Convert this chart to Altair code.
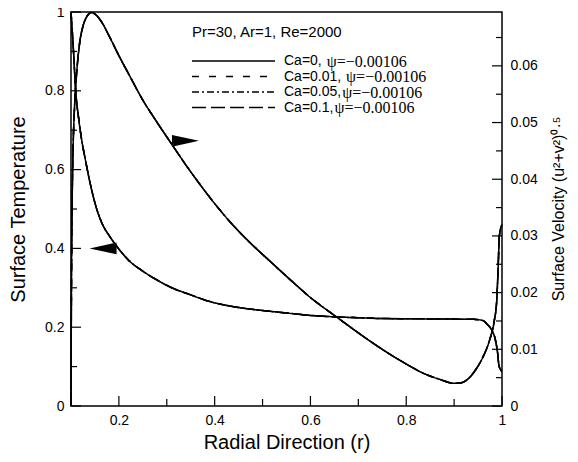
import altair as alt
import pandas as pd

# ---------------- data ----------------
r_temp = [0.100, 0.105, 0.110, 0.116, 0.1225, 0.130, 0.140, 0.1517, 0.165, 0.180,
          0.197, 0.221, 0.249, 0.275, 0.307, 0.350, 0.390, 0.440, 0.495, 0.550,
          0.599, 0.655, 0.700, 0.750, 0.800, 0.850, 0.900, 0.940, 0.960, 0.970,
          0.9775, 0.9865, 0.991, 0.9933, 0.997, 1.000]
temperature = [1.000, 0.905, 0.796, 0.730, 0.674, 0.625, 0.565, 0.508, 0.463, 0.432,
               0.403, 0.369, 0.343, 0.323, 0.302, 0.282, 0.265, 0.252, 0.243, 0.236,
               0.230, 0.226, 0.224, 0.222, 0.2215, 0.221, 0.2205, 0.220, 0.217, 0.206,
               0.195, 0.166, 0.133, 0.105, 0.092, 0.088]

r_vel = [0.100, 0.1005, 0.101, 0.102, 0.1035, 0.1045, 0.107, 0.109, 0.113, 0.118,
         0.125, 0.133, 0.143, 0.152, 0.165, 0.180, 0.200, 0.224, 0.249, 0.280,
         0.311, 0.340, 0.370, 0.400, 0.446, 0.474, 0.5225, 0.564, 0.599, 0.6546,
         0.700, 0.7517, 0.800, 0.835, 0.870, 0.900, 0.915, 0.932, 0.945, 0.960,
         0.974, 0.984, 0.989, 0.992, 0.9945, 1.000]
velocity = [0.0, 0.012, 0.022, 0.033, 0.042, 0.046, 0.052, 0.0553, 0.0600, 0.0640,
            0.0670, 0.0687, 0.0694, 0.0690, 0.0676, 0.0652, 0.0618, 0.0580, 0.0541, 0.0500,
            0.0461, 0.0425, 0.0390, 0.0357, 0.0312, 0.0288, 0.0250, 0.0218, 0.0192, 0.0157,
            0.0129, 0.0099, 0.0074, 0.0058, 0.0047, 0.0040, 0.0041, 0.0050, 0.0064, 0.0086,
            0.0116, 0.0151, 0.0186, 0.0245, 0.0300, 0.0320]

ca_text = ["Ca=0, ", "Ca=0.01, ", "Ca=0.05,", "Ca=0.1,"]
psi_text = ["ψ=−0.00106", "ψ=−0.00106", "ψ=−0.00106", "ψ=−0.00106"]
header_text = "Pr=30, Ar=1, Re=2000"

arrow_right_r, arrow_right_T = [0.339], [0.673]
arrow_left_r, arrow_left_T = [0.167], [0.400]

x_major = [0.2, 0.4, 0.6, 0.8, 1.0]
x_minor = [0.3, 0.5, 0.7, 0.9]
t_major = [0.0, 0.2, 0.4, 0.6, 0.8, 1.0]
t_minor = [0.1, 0.3, 0.5, 0.7, 0.9]
v_major = [0.0, 0.01, 0.02, 0.03, 0.04, 0.05, 0.06]
v_minor = [0.005, 0.015, 0.025, 0.035, 0.045, 0.055, 0.065]

# ---------------- styling ----------------
W, H = 431, 394
SANS = "Liberation Sans"
SERIF = "Liberation Serif"
dash_styles = [[1, 0], [7, 10], [7, 3, 2, 3], [14, 5]]

xscale = alt.Scale(domain=[0.1, 1.0], nice=False, zero=False)
tscale = alt.Scale(domain=[0.0, 1.0], nice=False, zero=False)
vscale = alt.Scale(domain=[0.0, 0.0695], nice=False, zero=False)

x_axis = alt.Axis(values=x_major, format="~g", ticks=False, domain=False, grid=False,
                  labelFlush=False, labelPadding=7, labelFontSize=14,
                  title="Radial Direction (r)", titleFontSize=20, titlePadding=5)
t_axis = alt.Axis(orient="left", values=t_major, format="~g", ticks=False, domain=False,
                  grid=False, labelFlush=False, labelPadding=7, labelFontSize=14,
                  title="Surface Temperature", titleFontSize=20, titlePadding=16)
v_axis = alt.Axis(orient="right", values=v_major, format="~g", ticks=False, domain=False,
                  grid=False, labelFlush=False, labelPadding=8, labelFontSize=14,
                  title=None)

X = alt.X("r:Q", scale=xscale, axis=x_axis)
one = pd.DataFrame({"k": [0]})

temp_df = pd.DataFrame([{"ca": c, "r": r, "T": t}
                        for c in ca_text for r, t in zip(r_temp, temperature)])
vel_df = pd.DataFrame([{"ca": c, "r": r, "v": v}
                       for c in ca_text for r, v in zip(r_vel, velocity)])
dash_enc = alt.StrokeDash("ca:N", scale=alt.Scale(domain=ca_text, range=dash_styles),
                          legend=None)

temp_lines = alt.Chart(temp_df).mark_line(color="black", strokeWidth=1.5,
                                          interpolate="monotone").encode(
    x=X, y=alt.Y("T:Q", scale=tscale, axis=t_axis), strokeDash=dash_enc)

vel_lines = alt.Chart(vel_df).mark_line(color="black", strokeWidth=1.5,
                                        interpolate="monotone").encode(
    x=X, y=alt.Y("v:Q", scale=vscale, axis=v_axis), strokeDash=dash_enc)


def yticks(vals, field, scale, axis, x0, x1):
    return alt.Chart(pd.DataFrame({field: vals})).mark_rule(color="black", strokeWidth=1.2).encode(
        y=alt.Y(f"{field}:Q", scale=scale, axis=axis), x=alt.value(x0), x2=alt.value(x1))


def xticks(vals, length):
    return alt.Chart(pd.DataFrame({"r": vals})).mark_rule(color="black", strokeWidth=1.2).encode(
        x=X, y=alt.value(H), y2=alt.value(H - length))


arrow_r_layer = alt.Chart(pd.DataFrame({"r": arrow_right_r, "T": arrow_right_T})).mark_point(
    shape="M -1 -0.43 L 1 0 L -1 0.43 Z", filled=True, size=729, color="black", opacity=1).encode(
    x=X, y=alt.Y("T:Q", scale=tscale, axis=t_axis))
arrow_l_layer = alt.Chart(pd.DataFrame({"r": arrow_left_r, "T": arrow_left_T})).mark_point(
    shape="M 1 -0.43 L -1 0 L 1 0.43 Z", filled=True, size=729, color="black", opacity=1).encode(
    x=X, y=alt.Y("T:Q", scale=tscale, axis=t_axis))

ARIAL = {"C": 0.722, "a": 0.556, "=": 0.584, "0": 0.556, "1": 0.556, "5": 0.556,
         ".": 0.278, ",": 0.278, " ": 0.278}


def text_width(s, size):
    return sum(ARIAL.get(c, 0.556) for c in s) * size


legend_layers = [
    alt.Chart(one).mark_text(align="left", baseline="middle", font=SANS, fontSize=15,
                             color="black").encode(
        x=alt.value(121), y=alt.value(20), text=alt.value(header_text))
]
for i, (ca, psi) in enumerate(zip(ca_text, psi_text)):
    yy = 49 + i * 15.5
    legend_layers.append(
        alt.Chart(one).mark_rule(color="black", strokeWidth=1.3,
                                 strokeDash=dash_styles[i]).encode(
            x=alt.value(121), x2=alt.value(204), y=alt.value(yy)))
    legend_layers.append(
        alt.Chart(one).mark_text(align="left", baseline="middle", font=SANS, fontSize=14,
                                 color="black").encode(
            x=alt.value(213), y=alt.value(yy), text=alt.value(ca)))
    legend_layers.append(
        alt.Chart(one).mark_text(align="left", baseline="middle", font=SERIF, fontSize=16,
                                 color="black").encode(
            x=alt.value(213 + text_width(ca, 14) + 1), y=alt.value(yy + 0.5),
            text=alt.value(psi)))

right_title = alt.Chart(one).mark_text(angle=270, align="center", baseline="middle",
                                       font=SANS, fontSize=16, color="black").encode(
    x=alt.value(488), y=alt.value(197), text=alt.value("Surface Velocity (u²+v²)⁰·⁵"))

left_group = alt.layer(
    temp_lines,
    yticks(t_major, "T", tscale, t_axis, 0, 10),
    yticks(t_minor, "T", tscale, t_axis, 0, 6),
    xticks(x_major, 10),
    xticks(x_minor, 7),
    arrow_r_layer,
    arrow_l_layer,
    right_title,
    *legend_layers,
)

right_group = alt.layer(
    vel_lines,
    yticks(v_major, "v", vscale, v_axis, W, W - 10),
    yticks(v_minor, "v", vscale, v_axis, W, W - 6),
)

chart = alt.layer(left_group, right_group).resolve_scale(y="independent").properties(
    width=W, height=H,
    autosize=alt.AutoSizeParams(type="none"),
    padding={"left": 63, "top": 4, "right": 68, "bottom": 48},
).configure_view(stroke="black", strokeWidth=1.5).configure_axis(
    labelFont=SANS, titleFont=SANS, labelColor="black", titleColor="black",
    titleFontWeight="normal")

chart.save("out.html", embed_options={"renderer": "svg", "actions": False})
